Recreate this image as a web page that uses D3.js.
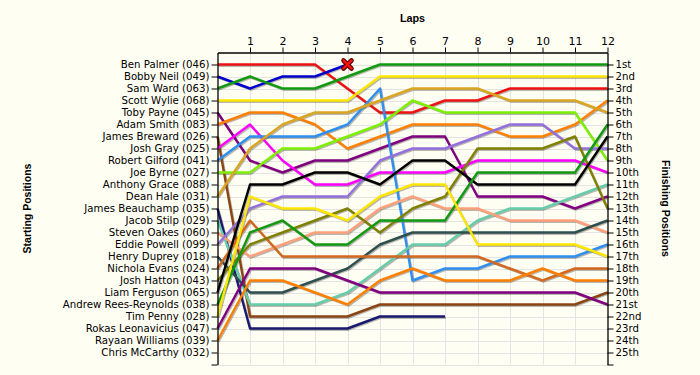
<!DOCTYPE html>
<html>
<head>
<meta charset="utf-8">
<script src="https://cdn.jsdelivr.net/npm/d3@7"></script>
<style>
  html, body { margin: 0; padding: 0; background: #FFFEF3; }
  svg { display: block; }
</style>
</head>
<body>
<svg id="chart" width="700" height="375"></svg>
<script>
// ---------- DATA ----------
const lapTicks = [1,2,3,4,5,6,7,8,9,10,11,12];

const startingLabels = [
  "Ben Palmer (046)", "Bobby Neil (049)", "Sam Ward (063)", "Scott Wylie (068)",
  "Toby Payne (045)", "Adam Smith (083)", "James Breward (026)", "Josh Gray (025)",
  "Robert Gilford (041)", "Joe Byrne (027)", "Anthony Grace (088)", "Dean Hale (031)",
  "James Beauchamp (035)", "Jacob Stilp (029)", "Steven Oakes (060)", "Eddie Powell (099)",
  "Henry Duprey (018)", "Nichola Evans (024)", "Josh Hatton (043)", "Liam Ferguson (065)",
  "Andrew Rees-Reynolds (038)", "Tim Penny (028)", "Rokas Leonavicius (047)",
  "Rayaan Williams (039)", "Chris McCarthy (032)"
];

const finishingLabels = [
  "1st","2nd","3rd","4th","5th","6th","7th","8th","9th","10th","11th","12th","13th",
  "14th","15th","16th","17th","18th","19th","20th","21st","22nd","23rd","24th","25th"
];

// positions per lap (lap 0 = grid)
const benPalmer      = [1,1,1,1,3,5,5,4,4,3,3,3,3];
const bobbyNeil      = [2,3,2,2,1];
const samWard        = [3,2,3,3,2,1,1,1,1,1,1,1,1];
const scottWylie     = [4,4,4,4,4,2,2,2,2,2,2,2,2];
const tobyPayne      = [5,9,10,9,9,8,7,7,12,12,12,13,12];
const adamSmith      = [6,5,5,6,8,7,6,6,6,7,7,6,4];
const jamesBreward   = [7,22,22,22,22,21,21,21,21,21,21,21,20];
const joshGray       = [8,6,9,11,11,10,10,10,9,9,9,9,10];
const robertGilford  = [9,7,7,7,6,3,19,18,18,17,17,17,16];
const joeByrne       = [10,10,8,8,7,6,4,5,5,5,5,5,9];
const anthonyGrace   = [];
const deanHale       = [12,8,6,5,5,4,3,3,3,4,4,4,5];
const jamesBeauchamp = [13,23,23,23,23,22,22,22];
const jacobStilp     = [14,21,21,21,20,18,16,16,14,13,13,12,11];
const stevenOakes    = [15,17,16,15,15,13,12,13,13,14,14,14,15];
const eddiePowell    = [16,13,12,12,12,9,8,8,7,6,6,8,8];
const henryDuprey    = [17,20,20,19,18,16,15,15,15,15,15,15,14];
const nicholaEvans   = [18,14,17,17,17,17,17,17,17,18,19,18,18];
const joshHatton     = [19,16,15,14,13,15,13,12,8,8,8,7,13];
const liamFerguson   = [20,11,11,10,10,11,9,9,11,11,11,11,7];
const andrewReesReynolds = [21,15,14,16,16,14,14,14,10,10,10,10,6];
const timPenny       = [22,12,13,13,14,12,11,11,16,16,16,16,17];
const rokasLeonavicius = [23,18,18,18,19,20,20,20,20,20,20,20,21];
const rayaanWilliams = [24,19,19,20,21,19,18,19,19,19,18,19,19];
const chrisMcCarthy  = [];

const driverColors = [
  "#EE1111", "#0000CD", "#119A11", "#FFE600", "#800080", "#FF8000", "#8B4513",
  "#FF00FF", "#2E8FF0", "#7CF000", "#000000", "#DAA520", "#191970", "#66CDAA",
  "#FFA07A", "#9370DB", "#2F4F4F", "#D2691E", "#808000", "#000000", "#119A11",
  "#FFE600", "#800080", "#FF8000", "#000000"
];

// retirements marked with a cross: [lap, position]
const retiredMarks = [[4, 1]];

// ---------- BUILD ----------
const series = [
  benPalmer, bobbyNeil, samWard, scottWylie, tobyPayne, adamSmith, jamesBreward,
  joshGray, robertGilford, joeByrne, anthonyGrace, deanHale, jamesBeauchamp,
  jacobStilp, stevenOakes, eddiePowell, henryDuprey, nicholaEvans, joshHatton,
  liamFerguson, andrewReesReynolds, timPenny, rokasLeonavicius, rayaanWilliams,
  chrisMcCarthy
].map((vals, i) => ({ name: startingLabels[i], values: vals, color: driverColors[i] }));

const svg = d3.select("#chart");
const x = d3.scaleLinear().domain([0, 12]).range([217.5, 607.5]);
const y = d3.scaleLinear().domain([0, 26]).range([52.5, 364.5]);

const labelFont = "'DejaVu Sans', Verdana, sans-serif";
const titleFont = "'Liberation Sans', Arial, sans-serif";

// gridlines
const grid = svg.append("g").attr("stroke", "#E4E4E4").attr("stroke-width", 1);
grid.selectAll("line.v").data(d3.range(1, 12)).join("line")
  .attr("x1", d => Math.round(x(d)) + 0.5).attr("x2", d => Math.round(x(d)) + 0.5)
  .attr("y1", y(0)).attr("y2", y(26));
grid.selectAll("line.h").data(d3.range(1, 27)).join("line")
  .attr("x1", x(0)).attr("x2", x(12))
  .attr("y1", d => Math.round(y(d)) + 0.5).attr("y2", d => Math.round(y(d)) + 0.5);

// lines
const line = d3.line().x((d, i) => x(i)).y(d => y(d));
const drawn = series.filter(s => s.values.length > 1);

svg.append("g").selectAll("path").data(drawn).join("path")
  .attr("d", d => line(d.values))
  .attr("fill", "none")
  .attr("stroke", "rgba(0,0,0,0.28)")
  .attr("stroke-width", 2.4)
  .attr("stroke-linejoin", "round")
  .attr("transform", "translate(1,1.2)");

svg.append("g").selectAll("path").data(drawn).join("path")
  .attr("d", d => line(d.values))
  .attr("fill", "none")
  .attr("stroke", d => d.color)
  .attr("stroke-width", 2.4)
  .attr("stroke-linejoin", "round");

// retirement cross
const cross = "M-4,-4L4,4M-4,4L4,-4";
const marks = svg.append("g").selectAll("g").data(retiredMarks).join("g")
  .attr("transform", d => `translate(${x(d[0])},${y(d[1])})`);
marks.append("path").attr("d", cross).attr("stroke", "#5a0000").attr("stroke-width", 4.6).attr("stroke-linecap", "round");
marks.append("path").attr("d", cross).attr("stroke", "#FF1010").attr("stroke-width", 2.4).attr("stroke-linecap", "round");

// axes
function styleAxis(g) {
  g.selectAll("path.domain").attr("stroke", "#000").attr("stroke-width", 1.3);
  g.selectAll(".tick line").attr("stroke", "#000").attr("stroke-width", 1);
  g.selectAll(".tick text").attr("fill", "#000").attr("font-family", labelFont).attr("font-size", "10.2px");
}

svg.append("g")
  .attr("transform", `translate(0,${y(0)})`)
  .call(d3.axisTop(x).tickValues(lapTicks).tickSize(5).tickSizeOuter(0).tickPadding(3))
  .call(styleAxis)
  .call(g => g.selectAll(".tick text").attr("font-size", "11px"));

svg.append("g")
  .attr("transform", `translate(${x(0)},0)`)
  .call(d3.axisLeft(y).tickValues(d3.range(1, 27)).tickFormat(d => startingLabels[d - 1] || "")
        .tickSize(6).tickSizeOuter(0).tickPadding(2))
  .call(styleAxis);

svg.append("g")
  .attr("transform", `translate(${x(12)},0)`)
  .call(d3.axisRight(y).tickValues(d3.range(1, 27)).tickFormat(d => finishingLabels[d - 1] || "")
        .tickSize(6).tickSizeOuter(0).tickPadding(2))
  .call(styleAxis);

// titles
svg.append("text")
  .attr("x", (x(0) + x(12)) / 2).attr("y", 22)
  .attr("text-anchor", "middle")
  .attr("font-family", titleFont).attr("font-weight", "bold").attr("font-size", "10.8px")
  .text("Laps");

svg.append("text")
  .attr("transform", `translate(31,${(y(0) + y(26)) / 2}) rotate(-90)`)
  .attr("text-anchor", "middle")
  .attr("font-family", titleFont).attr("font-weight", "bold").attr("font-size", "10.5px")
  .text("Starting Positions");

svg.append("text")
  .attr("transform", `translate(662,${(y(0) + y(26)) / 2}) rotate(90)`)
  .attr("text-anchor", "middle")
  .attr("font-family", titleFont).attr("font-weight", "bold").attr("font-size", "10.5px")
  .text("Finishing Positions");
</script>
</body>
</html>
